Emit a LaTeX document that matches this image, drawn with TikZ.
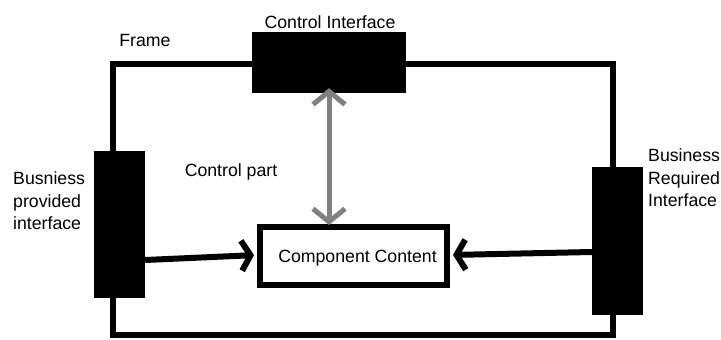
\documentclass[tikz,border=0pt]{standalone}
\usepackage{fontspec}
\setmainfont{Liberation Sans}
\usetikzlibrary{arrows.meta,calc}
\definecolor{linkgray}{RGB}{128,128,128}
\begin{document}
\begin{tikzpicture}[x=1pt,y=-1pt,
  every node/.style={font=\fontsize{17.7}{22.5}\selectfont, inner sep=0pt},
  port/.style={fill=black, draw=none, minimum width=51pt},
  content/.style={draw=black, line width=6pt, fill=white, minimum width=187pt, minimum height=58pt},
  label/.style={align=left, anchor=west},
  flow/.style={line width=6pt, -{Straight Barb[length=9pt,width=30pt]}},
  ctrl/.style={line width=5pt, draw=linkgray, {Straight Barb[length=13pt,width=32pt]}-{Straight Barb[length=13pt,width=32pt]}}
]
\useasboundingbox (0,0) rectangle (721,340);

% outer frame of the component
\draw[line width=6pt] (113,64) rectangle (613,335);

% interface blocks sitting on the frame
\node[port, minimum width=154pt, minimum height=61pt] (ci) at (329,62.5) {};
\node[port, minimum height=147pt] (lb) at (119.5,224.5) {};
\node[port, minimum height=148pt] (rb) at (617.5,241) {};

% inner content
\node[content] (cc) at (353.5,256) {};
\node (cct) at (357.5,258) {Component Content};

% labels
\node (cil) at (330,22) {Control Interface};
\node (fr) at (145,40) {Frame};
\node (cp) at (231,172) {Control part};
\node[label] (bpl) at (13,201) {Busniess\\provided\\interface};
\node[label] (brl) at (648,178) {Business\\Required\\Interface};

% connectors
\draw[ctrl, shorten <=-5pt, shorten >=-1pt] (ci.south) -- (ci.south |- cc.north);
\draw[flow, shorten >=3pt] ([yshift=-35.5pt]lb.east) -- ([yshift=1pt]cc.west);
\draw[flow, shorten >=3pt] ([yshift=-11pt]rb.west) -- ([yshift=1pt]cc.east);
\end{tikzpicture}
\end{document}
